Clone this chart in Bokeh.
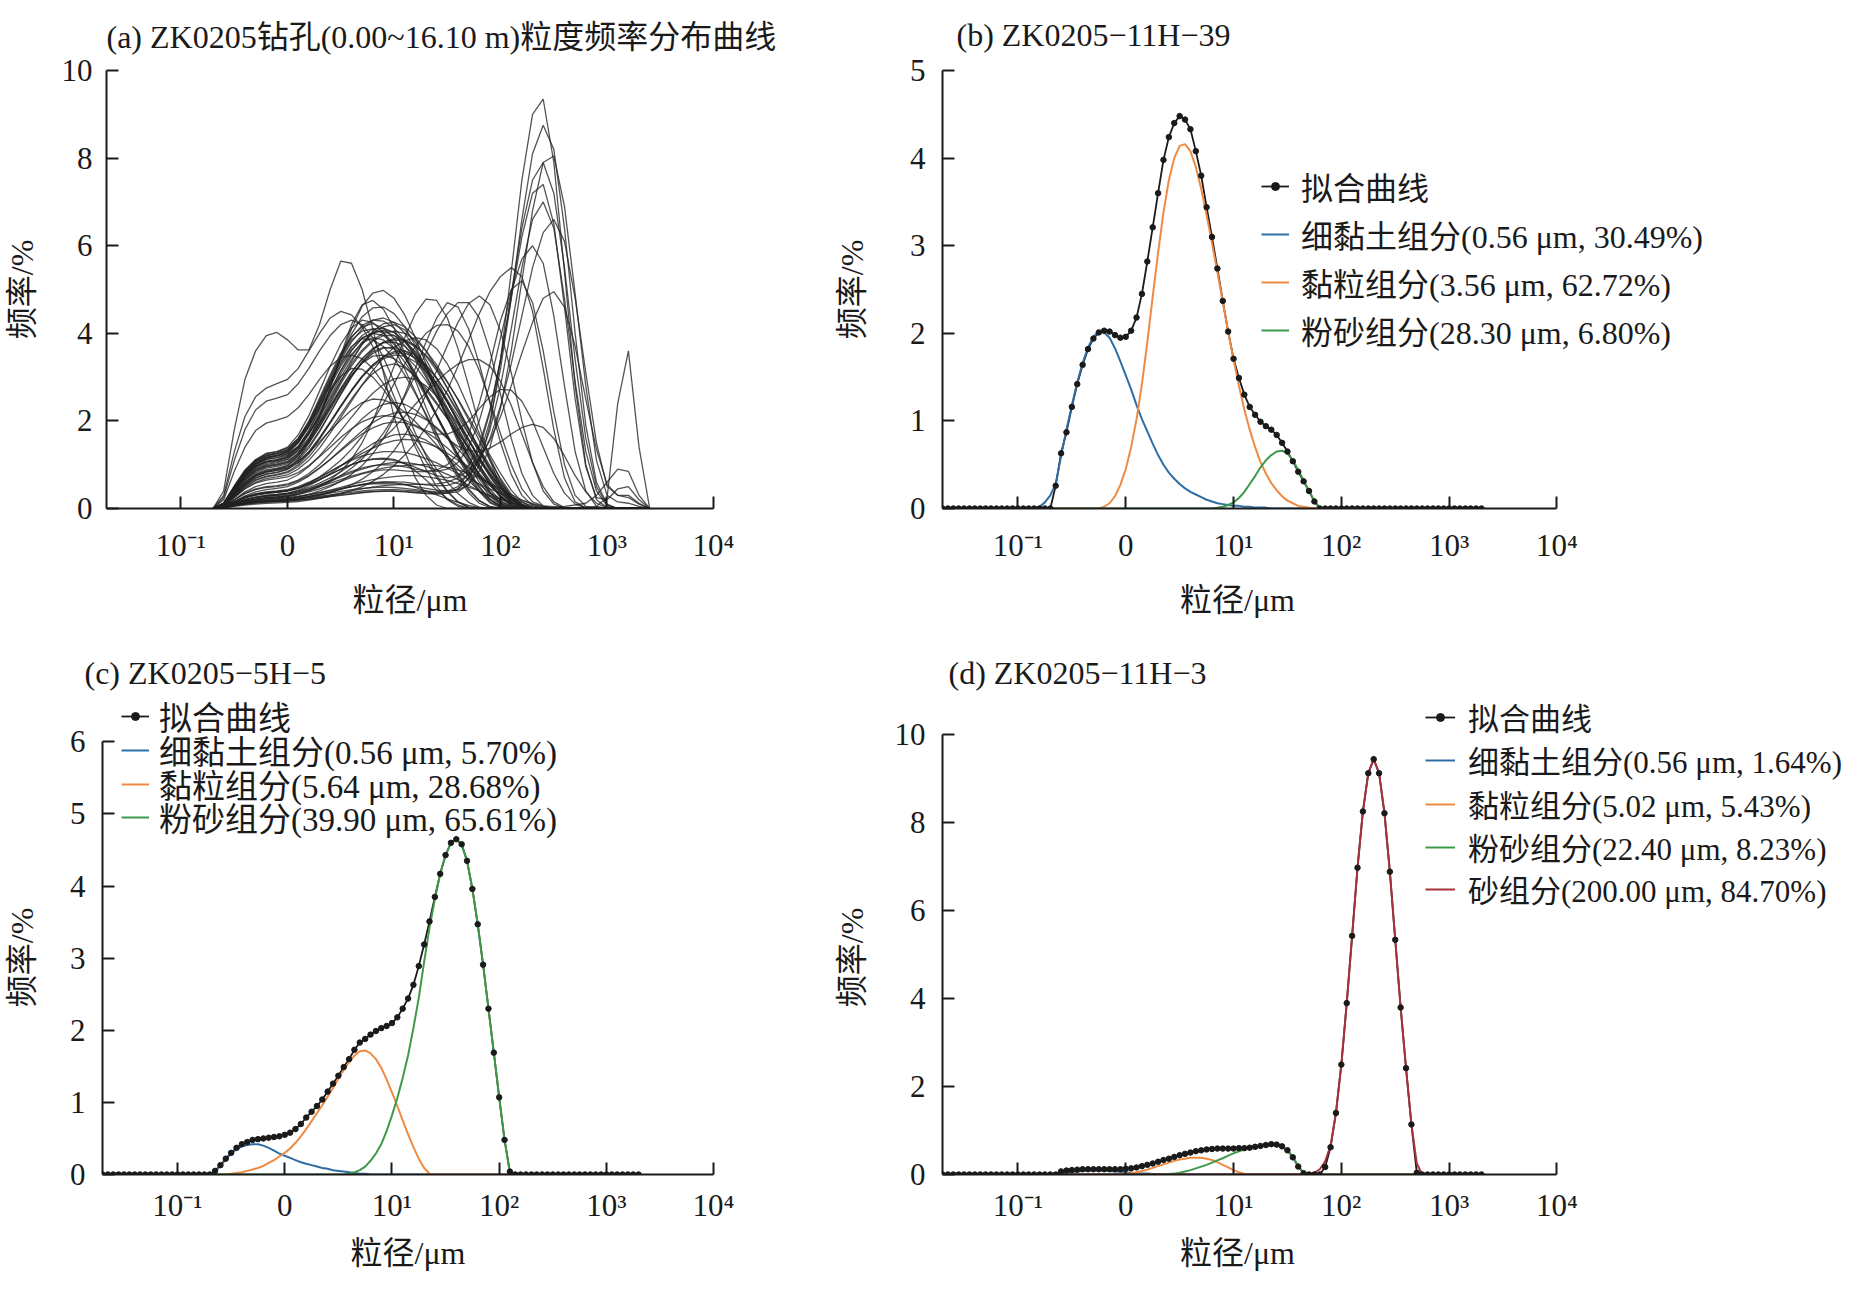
import numpy as np
from bokeh.plotting import figure
from bokeh.layouts import row, column
from bokeh.models import Range1d, FixedTicker, Legend, LegendItem
from bokeh.embed import file_html
from bokeh.resources import INLINE

# ---------------- grid of instrument size classes (um) ----------------
N_CLASSES = 101
size_um = np.logspace(np.log10(0.02), np.log10(2000.0), N_CLASSES)   # panels b, c, d
size_a = 0.02 * 10 ** (0.1 * np.arange(10, 52))                     # panel a (every 2nd class)


def seg(start, vals, n=N_CLASSES):
    out = [0.0] * start + list(vals)
    return out + [0.0] * (n - len(out))


def pad(vals, n=42):
    return list(vals) + [0.0] * (n - len(vals))


# ---------------- axis ticks ----------------
X_MIN, X_MAX = 0.02, 10000.0
x_ticks = [0.1, 1.0, 10.0, 100.0, 1000.0, 10000.0]
x_tick_labels = ["10⁻¹", "0", "10¹", "10²", "10³", "10⁴"]

# ---------------- panel (b) ZK0205-11H-39 ----------------
fit_b = seg(21, [0.26, 0.63, 0.87, 1.16, 1.42, 1.64, 1.82, 1.94, 2.01, 2.03, 2.02, 1.98, 1.95, 1.96, 2.03,
                 2.18, 2.45, 2.82, 3.21, 3.60, 3.98, 4.24, 4.40, 4.48, 4.44, 4.33, 4.08, 3.80, 3.44, 3.10,
                 2.74, 2.37, 2.02, 1.71, 1.49, 1.30, 1.16, 1.07, 0.99, 0.94, 0.90, 0.84, 0.75, 0.65, 0.54,
                 0.42, 0.31, 0.20, 0.08])
clay_fine_b = seg(18, [0.02, 0.07, 0.15, 0.28, 0.60, 0.90, 1.18, 1.44, 1.66, 1.84, 1.96, 2.02, 2.01, 1.95,
                       1.83, 1.68, 1.52, 1.36, 1.18, 1.02, 0.88, 0.74, 0.61, 0.50, 0.41, 0.34, 0.28, 0.23,
                       0.19, 0.16, 0.13, 0.10, 0.08, 0.06, 0.05, 0.04, 0.03, 0.03, 0.02, 0.02, 0.01, 0.01, 0.01])
clay_b = seg(29, [0.0, 0.02, 0.06, 0.14, 0.27, 0.45, 0.70, 1.02, 1.42, 1.90, 2.42, 2.92, 3.38, 3.75, 4.00,
                  4.14, 4.16, 4.08, 3.90, 3.65, 3.35, 3.03, 2.70, 2.36, 2.02, 1.70, 1.40, 1.13, 0.90, 0.70,
                  0.53, 0.40, 0.29, 0.21, 0.14, 0.09, 0.06, 0.03, 0.02, 0.01])
silt_b = seg(50, [0.0, 0.01, 0.02, 0.04, 0.07, 0.12, 0.19, 0.28, 0.37, 0.47, 0.55, 0.61, 0.65, 0.66, 0.63,
                  0.55, 0.44, 0.32, 0.20, 0.09, 0.01])
labels_b = ["拟合曲线", "细黏土组分(0.56 μm, 30.49%)", "黏粒组分(3.56 μm, 62.72%)", "粉砂组分(28.30 μm, 6.80%)"]

# ---------------- panel (c) ZK0205-5H-5 ----------------
fit_c = seg(21, [0.05, 0.13, 0.22, 0.30, 0.37, 0.42, 0.45, 0.48, 0.49, 0.50, 0.51, 0.52, 0.53, 0.55, 0.58,
                 0.63, 0.70, 0.79, 0.87, 0.95, 1.04, 1.15, 1.26, 1.37, 1.49, 1.60, 1.73, 1.83, 1.88, 1.94,
                 1.99, 2.03, 2.06, 2.10, 2.18, 2.30, 2.44, 2.63, 2.89, 3.19, 3.51, 3.85, 4.17, 4.43, 4.60,
                 4.65, 4.58, 4.35, 3.96, 3.47, 2.91, 2.30, 1.69, 1.07, 0.48, 0.04])
clay_fine_c = seg(21, [0.04, 0.12, 0.21, 0.29, 0.35, 0.39, 0.41, 0.42, 0.42, 0.40, 0.37, 0.33, 0.29, 0.26,
                       0.23, 0.20, 0.17, 0.15, 0.13, 0.11, 0.09, 0.08, 0.06, 0.05, 0.04, 0.03, 0.02, 0.01, 0.01])
clay_c = seg(24, [0.01, 0.02, 0.03, 0.05, 0.07, 0.09, 0.12, 0.16, 0.20, 0.25, 0.30, 0.36, 0.44, 0.53, 0.63,
                  0.74, 0.85, 0.96, 1.08, 1.20, 1.33, 1.45, 1.56, 1.65, 1.71, 1.72, 1.68, 1.60, 1.48, 1.32,
                  1.14, 0.95, 0.75, 0.56, 0.38, 0.22, 0.09, 0.01])
silt_c = seg(45, [0.0, 0.01, 0.03, 0.06, 0.11, 0.19, 0.29, 0.42, 0.60, 0.82, 1.06, 1.34, 1.65, 2.03, 2.45,
                  2.95, 3.42, 3.82, 4.17, 4.43, 4.60, 4.65, 4.57, 4.35, 3.96, 3.47, 2.91, 2.30, 1.69, 1.07,
                  0.48, 0.02])
labels_c = ["拟合曲线", "细黏土组分(0.56 μm, 5.70%)", "黏粒组分(5.64 μm, 28.68%)", "粉砂组分(39.90 μm, 65.61%)"]

# ---------------- panel (d) ZK0205-11H-3 ----------------
fit_d = seg(22, [0.07, 0.09, 0.10, 0.11, 0.12, 0.12, 0.12, 0.12, 0.12, 0.12, 0.12, 0.12, 0.13, 0.14, 0.16,
                 0.19, 0.22, 0.25, 0.29, 0.33, 0.36, 0.40, 0.44, 0.47, 0.50, 0.53, 0.55, 0.57, 0.58, 0.59,
                 0.59, 0.59, 0.59, 0.60, 0.60, 0.61, 0.63, 0.65, 0.67, 0.69, 0.68, 0.64, 0.55, 0.39, 0.18,
                 0.03, 0.0, 0.0, 0.0, 0.17, 0.62, 1.40, 2.50, 3.90, 5.43, 6.98, 8.26, 9.13, 9.45, 9.13,
                 8.22, 6.89, 5.34, 3.80, 2.42, 1.14, 0.04])
clay_fine_d = seg(22, [0.02, 0.04, 0.06, 0.07, 0.08, 0.09, 0.09, 0.09, 0.09, 0.08, 0.07, 0.06, 0.05, 0.04,
                       0.03, 0.02, 0.02, 0.01, 0.01])
clay_d = seg(33, [0.01, 0.02, 0.03, 0.05, 0.08, 0.11, 0.15, 0.19, 0.23, 0.27, 0.31, 0.34, 0.36, 0.38, 0.38,
                  0.38, 0.36, 0.33, 0.28, 0.22, 0.16, 0.10, 0.05, 0.02])
silt_d = seg(42, [0.01, 0.02, 0.04, 0.07, 0.10, 0.14, 0.18, 0.22, 0.27, 0.32, 0.37, 0.43, 0.48, 0.53, 0.57,
                  0.61, 0.64, 0.66, 0.67, 0.68, 0.67, 0.63, 0.55, 0.40, 0.20, 0.03])
sand_d = seg(68, [0.01, 0.04, 0.12, 0.30, 0.66, 1.40, 2.50, 3.90, 5.43, 6.98, 8.26, 9.13, 9.45, 9.13, 8.22,
                  6.89, 5.34, 3.80, 2.42, 1.14, 0.25])
labels_d = ["拟合曲线", "细黏土组分(0.56 μm, 1.64%)", "黏粒组分(5.02 μm, 5.43%)",
            "粉砂组分(22.40 μm, 8.23%)", "砂组分(200.00 μm, 84.70%)"]

# ---------------- panel (a): frequency curves (classes 20,22,...,102) ----------------
a_fine = [
    [0, 0.12, 0.5, 0.85, 1.1, 1.25, 1.3, 1.38, 1.6, 1.95, 2.4, 2.9, 3.4, 3.8, 4.1, 4.3, 4.35, 4.25, 4.0, 3.65, 3.2, 2.7, 2.2, 1.7, 1.2, 0.75, 0.38, 0.12, 0.02],
    [0, 0.1, 0.45, 0.8, 1.02, 1.15, 1.2, 1.25, 1.42, 1.72, 2.1, 2.55, 3.0, 3.4, 3.75, 4.0, 4.15, 4.2, 4.08, 3.8, 3.4, 2.95, 2.45, 1.95, 1.45, 1.0, 0.6, 0.28, 0.08],
    [0, 0.1, 0.4, 0.7, 0.9, 1.0, 1.05, 1.12, 1.35, 1.7, 2.15, 2.65, 3.15, 3.6, 3.9, 4.0, 3.95, 3.75, 3.45, 3.05, 2.6, 2.1, 1.62, 1.15, 0.72, 0.38, 0.13, 0.02],
    [0, 0.08, 0.35, 0.62, 0.82, 0.92, 0.96, 1.02, 1.2, 1.5, 1.88, 2.3, 2.72, 3.1, 3.42, 3.65, 3.78, 3.8, 3.7, 3.5, 3.2, 2.85, 2.45, 2.02, 1.58, 1.15, 0.75, 0.4, 0.15, 0.03],
    [0, 0.1, 0.45, 0.78, 1.0, 1.12, 1.16, 1.25, 1.5, 1.9, 2.4, 2.9, 3.35, 3.7, 3.88, 3.85, 3.7, 3.42, 3.05, 2.62, 2.15, 1.68, 1.22, 0.8, 0.45, 0.18, 0.04],
    [0, 0.07, 0.3, 0.55, 0.74, 0.83, 0.87, 0.92, 1.06, 1.3, 1.62, 1.98, 2.35, 2.7, 3.02, 3.28, 3.47, 3.58, 3.6, 3.5, 3.28, 2.98, 2.6, 2.18, 1.72, 1.28, 0.86, 0.5, 0.22, 0.06],
    [0, 0.12, 0.48, 0.83, 1.07, 1.2, 1.25, 1.32, 1.55, 1.95, 2.45, 2.95, 3.45, 3.85, 4.05, 4.1, 4.0, 3.78, 3.45, 3.05, 2.6, 2.12, 1.65, 1.2, 0.78, 0.42, 0.15, 0.03],
    [0, 0.06, 0.27, 0.48, 0.64, 0.72, 0.76, 0.82, 0.96, 1.18, 1.48, 1.8, 2.15, 2.5, 2.82, 3.08, 3.25, 3.3, 3.22, 3.02, 2.75, 2.42, 2.05, 1.66, 1.27, 0.9, 0.56, 0.28, 0.09],
    [0, 0.1, 0.42, 0.74, 0.96, 1.07, 1.1, 1.16, 1.33, 1.62, 2.0, 2.45, 2.9, 3.35, 3.75, 4.05, 4.22, 4.25, 4.15, 3.92, 3.6, 3.2, 2.75, 2.28, 1.8, 1.33, 0.9, 0.52, 0.22, 0.05],
    [0, 0.05, 0.2, 0.38, 0.5, 0.57, 0.6, 0.65, 0.77, 0.96, 1.2, 1.48, 1.78, 2.08, 2.38, 2.63, 2.83, 2.96, 3.0, 2.95, 2.8, 2.57, 2.27, 1.92, 1.55, 1.17, 0.8, 0.47, 0.2, 0.05],
    [0, 0.09, 0.38, 0.66, 0.86, 0.96, 1.0, 1.06, 1.25, 1.55, 1.92, 2.32, 2.7, 3.05, 3.32, 3.48, 3.5, 3.42, 3.25, 3.0, 2.7, 2.38, 2.05, 1.72, 1.4, 1.08, 0.78, 0.5, 0.26, 0.08],
    [0, 0.13, 0.52, 0.88, 1.12, 1.26, 1.3, 1.4, 1.68, 2.12, 2.68, 3.25, 3.75, 4.12, 4.3, 4.25, 4.02, 3.65, 3.18, 2.66, 2.12, 1.6, 1.12, 0.7, 0.36, 0.12, 0.02],
    [0, 0.08, 0.33, 0.58, 0.77, 0.86, 0.9, 0.95, 1.08, 1.28, 1.52, 1.78, 2.02, 2.25, 2.42, 2.5, 2.48, 2.38, 2.2, 1.98, 1.72, 1.45, 1.17, 0.9, 0.64, 0.4, 0.2, 0.06],
    [0, 0.04, 0.16, 0.29, 0.38, 0.43, 0.46, 0.5, 0.6, 0.74, 0.92, 1.12, 1.34, 1.56, 1.77, 1.96, 2.1, 2.18, 2.2, 2.15, 2.03, 1.85, 1.62, 1.36, 1.08, 0.8, 0.53, 0.3, 0.12, 0.03],
    [0, 0.11, 0.45, 0.8, 1.02, 1.15, 1.2, 1.3, 1.55, 1.9, 2.3, 2.7, 3.02, 3.2, 3.18, 3.0, 2.72, 2.38, 2.0, 1.62, 1.25, 0.9, 0.6, 0.34, 0.14, 0.03],
    [0, 0.06, 0.25, 0.45, 0.6, 0.68, 0.72, 0.77, 0.9, 1.1, 1.38, 1.72, 2.08, 2.45, 2.82, 3.15, 3.45, 3.68, 3.83, 3.9, 3.85, 3.65, 3.3, 2.85, 2.3, 1.72, 1.15, 0.65, 0.27, 0.06],
    [0, 0.1, 0.42, 0.74, 0.96, 1.07, 1.1, 1.18, 1.4, 1.78, 2.28, 2.85, 3.45, 3.98, 4.38, 4.58, 4.6, 4.45, 4.15, 3.72, 3.2, 2.65, 2.1, 1.58, 1.1, 0.68, 0.34, 0.1, 0.01],
    [0, 0.07, 0.3, 0.52, 0.7, 0.78, 0.82, 0.9, 1.12, 1.5, 2.05, 2.75, 3.5, 4.2, 4.65, 4.75, 4.55, 4.12, 3.55, 2.92, 2.3, 1.72, 1.2, 0.76, 0.42, 0.18, 0.05],
    [0, 0.08, 0.33, 0.58, 0.76, 0.85, 0.9, 0.98, 1.2, 1.58, 2.1, 2.75, 3.45, 4.1, 4.62, 4.92, 4.98, 4.8, 4.42, 3.9, 3.3, 2.68, 2.08, 1.52, 1.02, 0.6, 0.28, 0.08],
    [0, 0.11, 0.46, 0.8, 1.03, 1.16, 1.21, 1.28, 1.5, 1.86, 2.32, 2.8, 3.25, 3.62, 3.88, 4.02, 4.05, 3.95, 3.72, 3.4, 3.0, 2.55, 2.08, 1.62, 1.18, 0.78, 0.44, 0.18, 0.04],
    [0, 0.09, 0.38, 0.67, 0.88, 0.98, 1.02, 1.08, 1.26, 1.55, 1.95, 2.4, 2.85, 3.25, 3.58, 3.82, 3.95, 3.95, 3.82, 3.58, 3.25, 2.85, 2.42, 1.98, 1.55, 1.12, 0.72, 0.38, 0.13, 0.02],
    [0, 0.12, 0.5, 0.86, 1.1, 1.22, 1.27, 1.35, 1.6, 2.0, 2.52, 3.05, 3.55, 3.92, 4.15, 4.22, 4.12, 3.88, 3.52, 3.1, 2.62, 2.14, 1.68, 1.24, 0.85, 0.5, 0.22, 0.05],
    [0, 0.07, 0.28, 0.5, 0.66, 0.74, 0.78, 0.84, 1.0, 1.25, 1.58, 1.95, 2.32, 2.68, 3.0, 3.25, 3.42, 3.5, 3.48, 3.35, 3.12, 2.8, 2.42, 2.0, 1.58, 1.16, 0.78, 0.45, 0.19, 0.04],
    [0, 0.1, 0.43, 0.75, 0.97, 1.08, 1.12, 1.2, 1.42, 1.78, 2.22, 2.7, 3.15, 3.52, 3.78, 3.9, 3.85, 3.65, 3.35, 2.98, 2.55, 2.1, 1.65, 1.22, 0.82, 0.48, 0.2, 0.04],
    [0, 0.08, 0.32, 0.56, 0.74, 0.83, 0.87, 0.93, 1.1, 1.38, 1.75, 2.18, 2.62, 3.02, 3.35, 3.58, 3.68, 3.65, 3.5, 3.25, 2.92, 2.55, 2.15, 1.75, 1.35, 0.98, 0.64, 0.35, 0.14, 0.03],
    [0, 0.1, 0.44, 0.77, 1.0, 1.12, 1.16, 1.22, 1.4, 1.7, 2.08, 2.5, 2.92, 3.3, 3.62, 3.85, 4.0, 4.05, 4.0, 3.85, 3.6, 3.28, 2.9, 2.48, 2.02, 1.55, 1.1, 0.68, 0.33, 0.1, 0.01],
    [0, 0.09, 0.4, 0.7, 0.92, 1.03, 1.07, 1.13, 1.3, 1.58, 1.95, 2.35, 2.75, 3.12, 3.42, 3.65, 3.8, 3.85, 3.82, 3.7, 3.5, 3.22, 2.88, 2.5, 2.08, 1.65, 1.22, 0.8, 0.42, 0.15, 0.02],
    [0, 0.11, 0.47, 0.82, 1.06, 1.18, 1.22, 1.3, 1.52, 1.88, 2.35, 2.85, 3.3, 3.68, 3.95, 4.1, 4.12, 4.02, 3.8, 3.5, 3.12, 2.7, 2.25, 1.8, 1.35, 0.92, 0.55, 0.25, 0.06],
    [0, 0.08, 0.34, 0.6, 0.79, 0.88, 0.92, 0.98, 1.15, 1.42, 1.78, 2.18, 2.6, 3.0, 3.35, 3.62, 3.8, 3.88, 3.85, 3.72, 3.48, 3.15, 2.75, 2.3, 1.83, 1.36, 0.92, 0.54, 0.24, 0.06],
    [0, 0.1, 0.42, 0.73, 0.95, 1.06, 1.1, 1.17, 1.38, 1.72, 2.15, 2.62, 3.08, 3.48, 3.8, 4.0, 4.08, 4.02, 3.84, 3.55, 3.18, 2.76, 2.3, 1.84, 1.38, 0.96, 0.58, 0.28, 0.08],
    [0, 0.07, 0.3, 0.53, 0.7, 0.79, 0.83, 0.89, 1.04, 1.28, 1.6, 1.96, 2.34, 2.7, 3.02, 3.28, 3.46, 3.55, 3.55, 3.45, 3.26, 2.98, 2.62, 2.22, 1.8, 1.38, 0.98, 0.6, 0.28, 0.08],
    [0, 0.12, 0.49, 0.84, 1.08, 1.21, 1.26, 1.34, 1.58, 1.97, 2.47, 3.0, 3.5, 3.9, 4.18, 4.3, 4.28, 4.12, 3.85, 3.48, 3.05, 2.58, 2.1, 1.62, 1.16, 0.74, 0.38, 0.13, 0.02],
    [0, 0.09, 0.37, 0.65, 0.85, 0.95, 0.99, 1.05, 1.22, 1.5, 1.86, 2.26, 2.66, 3.02, 3.32, 3.54, 3.66, 3.68, 3.6, 3.42, 3.16, 2.84, 2.48, 2.1, 1.7, 1.3, 0.92, 0.57, 0.28, 0.09, 0.01],
]
a_fine_rich = [
    [0, 0.4, 1.8, 2.95, 3.6, 3.95, 4.02, 3.85, 3.62, 3.62, 4.2, 5.0, 5.65, 5.6, 5.0, 4.1, 3.1, 2.1, 1.3, 0.7, 0.3, 0.08],
    [0, 0.3, 1.3, 2.1, 2.55, 2.75, 2.85, 2.95, 3.2, 3.6, 4.0, 4.35, 4.5, 4.42, 4.15, 3.7, 3.15, 2.55, 1.95, 1.4, 0.9, 0.5, 0.2, 0.05],
    [0, 0.25, 1.1, 1.8, 2.25, 2.45, 2.52, 2.6, 2.85, 3.2, 3.6, 3.95, 4.2, 4.3, 4.2, 3.9, 3.45, 2.9, 2.3, 1.72, 1.2, 0.75, 0.4, 0.15, 0.03],
    [0, 0.2, 0.85, 1.4, 1.78, 1.95, 2.02, 2.1, 2.3, 2.6, 2.95, 3.25, 3.45, 3.5, 3.42, 3.2, 2.85, 2.42, 1.95, 1.5, 1.08, 0.7, 0.38, 0.15, 0.03],
]
a_low = [
    [0, 0.03, 0.12, 0.2, 0.25, 0.28, 0.3, 0.33, 0.38, 0.45, 0.53, 0.62, 0.72, 0.82, 0.9, 0.97, 1.02, 1.05, 1.05, 1.02, 0.96, 0.88, 0.78, 0.66, 0.53, 0.4, 0.27, 0.15, 0.06, 0.01],
    [0, 0.02, 0.08, 0.14, 0.18, 0.2, 0.22, 0.24, 0.27, 0.31, 0.36, 0.42, 0.48, 0.55, 0.61, 0.66, 0.7, 0.73, 0.75, 0.75, 0.73, 0.69, 0.64, 0.57, 0.49, 0.4, 0.3, 0.21, 0.13, 0.06, 0.02],
    [0, 0.03, 0.14, 0.24, 0.3, 0.34, 0.37, 0.4, 0.46, 0.55, 0.66, 0.78, 0.9, 1.0, 1.08, 1.13, 1.15, 1.12, 1.02, 0.86, 0.65, 0.42, 0.22, 0.08, 0.01],
    [0, 0.04, 0.16, 0.27, 0.34, 0.38, 0.4, 0.43, 0.5, 0.6, 0.72, 0.85, 0.98, 1.1, 1.2, 1.26, 1.3, 1.3, 1.28, 1.22, 1.14, 1.04, 0.92, 0.8, 0.68, 0.56, 0.45, 0.35, 0.26, 0.18, 0.11, 0.05, 0.01],
    [0, 0.02, 0.07, 0.12, 0.15, 0.17, 0.18, 0.2, 0.23, 0.27, 0.32, 0.38, 0.44, 0.5, 0.55, 0.58, 0.6, 0.59, 0.55, 0.48, 0.4, 0.31, 0.22, 0.14, 0.07, 0.02],
    [0, 0.03, 0.1, 0.17, 0.22, 0.25, 0.27, 0.3, 0.35, 0.42, 0.5, 0.58, 0.66, 0.74, 0.81, 0.87, 0.92, 0.96, 0.98, 1.0, 1.0, 0.98, 0.94, 0.88, 0.8, 0.7, 0.58, 0.45, 0.32, 0.2, 0.1, 0.03],
    [0, 0.04, 0.15, 0.26, 0.33, 0.37, 0.39, 0.42, 0.48, 0.58, 0.7, 0.84, 0.98, 1.12, 1.26, 1.38, 1.48, 1.55, 1.58, 1.56, 1.5, 1.4, 1.26, 1.1, 0.92, 0.74, 0.56, 0.4, 0.26, 0.14, 0.06, 0.01],
    [0, 0.05, 0.2, 0.34, 0.43, 0.48, 0.5, 0.54, 0.63, 0.76, 0.93, 1.12, 1.32, 1.52, 1.7, 1.84, 1.94, 1.98, 1.96, 1.88, 1.75, 1.58, 1.38, 1.16, 0.94, 0.72, 0.52, 0.34, 0.2, 0.09, 0.02],
]
a_medium = [
    [0, 0.03, 0.1, 0.16, 0.2, 0.22, 0.24, 0.27, 0.32, 0.4, 0.5, 0.65, 0.85, 1.12, 1.5, 2.0, 2.6, 3.25, 3.9, 4.45, 4.78, 4.75, 4.35, 3.65, 2.8, 1.9, 1.1, 0.5, 0.15, 0.02],
    [0, 0.02, 0.08, 0.13, 0.16, 0.18, 0.2, 0.22, 0.26, 0.32, 0.4, 0.5, 0.62, 0.78, 0.98, 1.25, 1.6, 2.05, 2.6, 3.2, 3.8, 4.35, 4.7, 4.6, 4.1, 3.3, 2.4, 1.5, 0.78, 0.3, 0.07],
    [0, 0.02, 0.06, 0.1, 0.13, 0.15, 0.16, 0.18, 0.21, 0.25, 0.3, 0.36, 0.44, 0.54, 0.67, 0.84, 1.05, 1.32, 1.67, 2.1, 2.6, 3.15, 3.72, 4.25, 4.68, 4.85, 4.65, 4.05, 3.1, 2.0, 1.05, 0.4, 0.1, 0.01],
    [0, 0.01, 0.05, 0.08, 0.1, 0.12, 0.13, 0.14, 0.16, 0.19, 0.23, 0.28, 0.34, 0.41, 0.5, 0.62, 0.78, 0.98, 1.22, 1.5, 1.85, 2.25, 2.7, 3.25, 3.85, 4.45, 4.95, 5.3, 5.5, 5.3, 4.5, 3.2, 1.8, 0.7, 0.15, 0.01],
    [0, 0.03, 0.12, 0.2, 0.26, 0.3, 0.32, 0.35, 0.4, 0.48, 0.58, 0.7, 0.84, 1.0, 1.18, 1.38, 1.6, 1.84, 2.1, 2.38, 2.65, 2.9, 3.12, 3.3, 3.4, 3.4, 3.25, 2.9, 2.35, 1.7, 1.05, 0.5, 0.15, 0.02],
    [0, 0.03, 0.1, 0.17, 0.21, 0.24, 0.26, 0.29, 0.34, 0.41, 0.5, 0.61, 0.75, 0.92, 1.13, 1.4, 1.72, 2.1, 2.55, 3.05, 3.55, 4.05, 4.45, 4.7, 4.7, 4.35, 3.6, 2.6, 1.6, 0.8, 0.3, 0.06],
]
a_sand = [
    [0, 0.02, 0.08, 0.13, 0.16, 0.18, 0.19, 0.2, 0.22, 0.25, 0.28, 0.31, 0.34, 0.37, 0.4, 0.42, 0.43, 0.43, 0.42, 0.4, 0.38, 0.36, 0.35, 0.38, 0.55, 1.0, 1.9, 3.4, 5.4, 7.5, 9.0, 9.35, 7.9, 5.4, 2.8, 1.0, 0.2, 0.02],
    [0, 0.02, 0.07, 0.11, 0.14, 0.16, 0.17, 0.18, 0.2, 0.22, 0.25, 0.28, 0.31, 0.34, 0.37, 0.39, 0.4, 0.4, 0.39, 0.37, 0.35, 0.34, 0.36, 0.45, 0.7, 1.2, 2.0, 3.2, 4.8, 6.6, 8.1, 8.75, 8.2, 6.4, 4.0, 1.9, 0.6, 0.1],
    [0, 0.03, 0.1, 0.16, 0.2, 0.22, 0.23, 0.25, 0.28, 0.32, 0.36, 0.41, 0.46, 0.5, 0.54, 0.56, 0.57, 0.56, 0.54, 0.5, 0.46, 0.42, 0.4, 0.42, 0.55, 0.85, 1.4, 2.3, 3.6, 5.2, 6.8, 7.9, 8.05, 6.9, 4.9, 2.8, 1.1, 0.3, 0.15, 0.12, 0.05],
    [0, 0.02, 0.07, 0.12, 0.15, 0.17, 0.18, 0.2, 0.23, 0.27, 0.31, 0.35, 0.39, 0.43, 0.46, 0.48, 0.49, 0.48, 0.46, 0.43, 0.4, 0.38, 0.4, 0.5, 0.8, 1.35, 2.2, 3.4, 4.9, 6.4, 7.5, 7.9, 7.2, 5.5, 3.4, 1.6, 0.5, 0.08],
    [0, 0.04, 0.15, 0.25, 0.31, 0.35, 0.37, 0.4, 0.46, 0.55, 0.66, 0.78, 0.9, 1.0, 1.08, 1.12, 1.13, 1.1, 1.03, 0.94, 0.84, 0.75, 0.7, 0.75, 0.98, 1.45, 2.25, 3.4, 4.8, 6.2, 7.2, 7.4, 6.5, 4.6, 2.5, 0.95, 0.25, 0.2, 0.45, 0.5, 0.2, 0],
    [0, 0.02, 0.08, 0.13, 0.16, 0.18, 0.19, 0.21, 0.24, 0.28, 0.33, 0.38, 0.44, 0.5, 0.55, 0.59, 0.61, 0.61, 0.6, 0.57, 0.54, 0.52, 0.53, 0.6, 0.78, 1.1, 1.6, 2.35, 3.3, 4.4, 5.5, 6.3, 6.6, 6.1, 4.8, 3.1, 1.5, 0.5, 0.3, 0.25, 0.1, 0],
    [0, 0.03, 0.12, 0.2, 0.25, 0.28, 0.3, 0.33, 0.38, 0.45, 0.54, 0.64, 0.75, 0.85, 0.93, 0.98, 1.0, 0.99, 0.95, 0.9, 0.86, 0.85, 0.9, 1.05, 1.4, 2.0, 2.85, 3.9, 4.95, 5.7, 6.0, 5.6, 4.4, 2.8, 1.3, 0.4, 0.05],
    [0, 0.02, 0.07, 0.11, 0.13, 0.15, 0.16, 0.17, 0.19, 0.22, 0.26, 0.3, 0.35, 0.4, 0.45, 0.49, 0.52, 0.54, 0.55, 0.55, 0.55, 0.56, 0.6, 0.7, 0.88, 1.15, 1.55, 2.1, 2.8, 3.55, 4.25, 4.8, 4.95, 4.6, 3.7, 2.5, 1.35, 0.55, 0.3, 0.3, 0.12, 0],
    [0, 0.02, 0.06, 0.1, 0.13, 0.15, 0.16, 0.17, 0.19, 0.21, 0.24, 0.27, 0.3, 0.33, 0.36, 0.38, 0.39, 0.39, 0.38, 0.36, 0.34, 0.33, 0.35, 0.44, 0.68, 1.1, 1.8, 2.8, 4.1, 5.5, 6.6, 7.0, 6.4, 4.8, 2.9, 1.3, 0.4, 0.06],
    [0, 0.03, 0.1, 0.17, 0.21, 0.24, 0.26, 0.28, 0.32, 0.38, 0.45, 0.53, 0.62, 0.71, 0.79, 0.85, 0.88, 0.88, 0.86, 0.84, 0.84, 0.88, 1.0, 1.25, 1.7, 2.4, 3.3, 4.3, 5.0, 5.2, 4.7, 3.6, 2.2, 1.0, 0.3, 0.05],
]
a_bimodal = [
    [0, 0.06, 0.25, 0.45, 0.58, 0.65, 0.68, 0.72, 0.82, 0.98, 1.18, 1.4, 1.62, 1.82, 1.98, 2.08, 2.12, 2.1, 2.02, 1.9, 1.78, 1.7, 1.7, 1.8, 2.0, 2.28, 2.55, 2.72, 2.7, 2.45, 2.0, 1.4, 0.8, 0.35, 0.1, 0.02],
    [0, 0.05, 0.2, 0.35, 0.45, 0.5, 0.52, 0.56, 0.65, 0.8, 1.0, 1.25, 1.52, 1.8, 2.05, 2.25, 2.38, 2.42, 2.38, 2.25, 2.05, 1.82, 1.6, 1.42, 1.32, 1.3, 1.38, 1.52, 1.7, 1.85, 1.92, 1.85, 1.6, 1.2, 0.75, 0.38, 0.12, 0.02],
]
a_tail = [
    [0, 0.03, 0.12, 0.2, 0.26, 0.3, 0.32, 0.35, 0.42, 0.52, 0.65, 0.8, 0.97, 1.15, 1.32, 1.48, 1.6, 1.68, 1.7, 1.66, 1.56, 1.4, 1.2, 0.98, 0.75, 0.54, 0.36, 0.22, 0.12, 0.06, 0.03, 0.02, 0.02, 0.02, 0.02, 0.03, 0.05, 0.25, 2.4, 3.6, 1.4, 0],
    [0, 0.04, 0.15, 0.25, 0.32, 0.36, 0.38, 0.41, 0.48, 0.58, 0.72, 0.9, 1.1, 1.35, 1.65, 2.0, 2.4, 2.85, 3.3, 3.7, 4.0, 4.18, 4.2, 4.05, 3.7, 3.15, 2.45, 1.7, 1.0, 0.45, 0.15, 0.06, 0.04, 0.05, 0.08, 0.12, 0.3, 0.6, 0.9, 0.85, 0.3, 0],
]

# ---------------- styling ----------------
SERIF = "'Liberation Serif', 'Noto Sans CJK SC', serif"
INK = "#1a1a1a"
BLUE, ORANGE, GREEN, RED = "#2f6ea5", "#ee8a42", "#3e9a4a", "#a6333b"
DECADE_SPAN = np.log10(X_MAX / X_MIN)
EM = "\u2003"


def make_fig(w, h, ymax, yticks, bl, br, bt, bb, title, t_off, t_stand, t_valign,
             ylab_stand, ytick_stand, xtick_stand, xlab_stand, data_w, data_h,
             xlab_pad=0, ylab_pad=""):
    frame_w = w - bl - br
    frame_h = h - bt - bb
    # plot area may be larger than the axes (room for the legend); axes keep their own bounds
    x_end = max(X_MIN * 10 ** (DECADE_SPAN * frame_w / data_w), X_MAX * 1.0001)
    y_end = max(ymax * frame_h / data_h, ymax * 1.0001)
    p = figure(width=w, height=h, x_axis_type="log",
               x_range=Range1d(X_MIN, x_end), y_range=Range1d(0, y_end),
               output_backend="svg", toolbar_location=None,
               min_border_left=bl, min_border_right=br, min_border_top=bt, min_border_bottom=bb)
    p.outline_line_color = None
    p.xgrid.visible = False
    p.ygrid.visible = False
    p.background_fill_color = "white"
    p.border_fill_color = "white"
    p.title.text = title
    p.title.text_font = SERIF
    p.title.text_font_size = "32px"
    p.title.text_font_style = "normal"
    p.title.text_color = INK
    p.title.align = "left"
    p.title.vertical_align = t_valign
    p.title.offset = t_off
    p.title.standoff = t_stand
    for ax in (p.xaxis[0], p.yaxis[0]):
        ax.axis_line_color = INK
        ax.axis_line_width = 2
        ax.major_tick_line_color = INK
        ax.major_tick_line_width = 2
        ax.major_tick_in = 12
        ax.major_tick_out = 0
        ax.minor_tick_line_color = None
        ax.major_label_text_font = SERIF
        ax.major_label_text_font_size = "31px"
        ax.major_label_text_color = INK
        ax.axis_label_text_font = SERIF
        ax.axis_label_text_font_size = "32px"
        ax.axis_label_text_font_style = "normal"
        ax.axis_label_text_color = INK
    p.xaxis.bounds = (X_MIN, X_MAX)
    p.yaxis.bounds = (0, ymax)
    p.xaxis.ticker = FixedTicker(ticks=x_ticks)
    p.xaxis.major_label_overrides = {t: s for t, s in zip(x_ticks, x_tick_labels)}
    p.yaxis.ticker = FixedTicker(ticks=yticks)
    # axis titles are centred on the plot area; em-space padding re-centres them on the axes
    p.xaxis.axis_label = "粒径/μm" + EM * xlab_pad
    p.yaxis.axis_label = "频率/%" + ylab_pad
    p.yaxis.axis_label_standoff = ylab_stand
    p.yaxis.major_label_standoff = ytick_stand
    p.xaxis.major_label_standoff = xtick_stand
    p.xaxis.axis_label_standoff = xlab_stand
    return p


def draw_components(p, fit, comps, colors):
    x = list(size_um)
    r_line = p.line(x, fit, line_color=INK, line_width=1.8)
    comp_r = [p.line(x, c, line_color=col, line_width=2) for c, col in zip(comps, colors)]
    r_dots = p.scatter(x, fit, size=5.5, fill_color=INK, line_color=INK)
    return [[r_line, r_dots]] + [[r] for r in comp_r]


def legend_style(font, gw, stand):
    return dict(orientation="vertical", background_fill_alpha=0, border_line_color=None,
                padding=0, margin=0, spacing=0, glyph_width=gw, glyph_height=20, label_height=20,
                label_standoff=stand, label_text_font=SERIF, label_text_font_size=font,
                label_text_color=INK)


def add_legend(p, renderer_groups, labels, loc, font, spacing, gw, stand):
    items = [LegendItem(label=lab, renderers=rs) for lab, rs in zip(labels, renderer_groups)]
    style = legend_style(font, gw, stand)
    style["spacing"] = spacing
    p.add_layout(Legend(items=items, location=loc, **style))


def add_row_legends(p, renderer_groups, labels, x, ys, font, gw, stand):
    # one legend per row, so that the row pitch can be tighter than the text box height
    for lab, rs, y in zip(labels, renderer_groups, ys):
        p.add_layout(Legend(items=[LegendItem(label=lab, renderers=rs)], location=(x, y),
                            **legend_style(font, gw, stand)))


# panel a
pa = make_fig(830, 636, 10, [0, 2, 4, 6, 8, 10], 101, 117, 66, 128,
              "(a) ZK0205钻孔(0.00~16.10 m)粒度频率分布曲线", 0, 27, "top", 19, 14, 19, 16, 612, 442)
all_a = a_fine + a_fine_rich + a_low + a_medium + a_sand + a_bimodal + a_tail
pa.multi_line([list(size_a)] * len(all_a), [pad(c) for c in all_a],
              line_color="#222222", line_alpha=0.78, line_width=1.3)

# panel b
pb = make_fig(1030, 636, 5, [0, 1, 2, 3, 4, 5], 111, 8, 70, 128,
              "(b) ZK0205−11H−39", 14, 31, "top", 37, 17, 19, 16, 615, 438, xlab_pad=10)
rg_b = draw_components(pb, fit_b, [clay_fine_b, clay_b, silt_b], [BLUE, ORANGE, GREEN])
add_legend(pb, rg_b, labels_b, (319, 155), "32px", 2, 28, 12)

# panel c
pc = make_fig(830, 637, 6, [0, 1, 2, 3, 4, 5, 6], 101, 117, 56, 93,
              "(c) ZK0205−5H−5", -18, 0, "top", 27, 17, 13, 9, 612, 438, ylab_pad=EM + "\u2002")
rg_c = draw_components(pc, fit_c, [clay_fine_c, clay_c, silt_c], [BLUE, ORANGE, GREEN])
add_row_legends(pc, rg_c, labels_c, 19, [434, 400, 366, 333], "33px", 28, 10)

# panel d
pd_ = make_fig(1030, 637, 10, [0, 2, 4, 6, 8, 10], 111, 8, 56, 93,
               "(d) ZK0205−11H−3", 6, 0, "top", 22, 17, 13, 9, 615, 445,
               xlab_pad=10, ylab_pad=EM + "\u2002")
rg_d = draw_components(pd_, fit_d, [clay_fine_d, clay_d, silt_d, sand_d], [BLUE, ORANGE, GREEN, RED])
add_row_legends(pd_, rg_d, labels_d, 483, [435, 392, 348, 305, 263], "31px", 30, 13)

layout = column(row(pa, pb), row(pc, pd_))
open("out.html", "w").write(file_html(layout, INLINE))
